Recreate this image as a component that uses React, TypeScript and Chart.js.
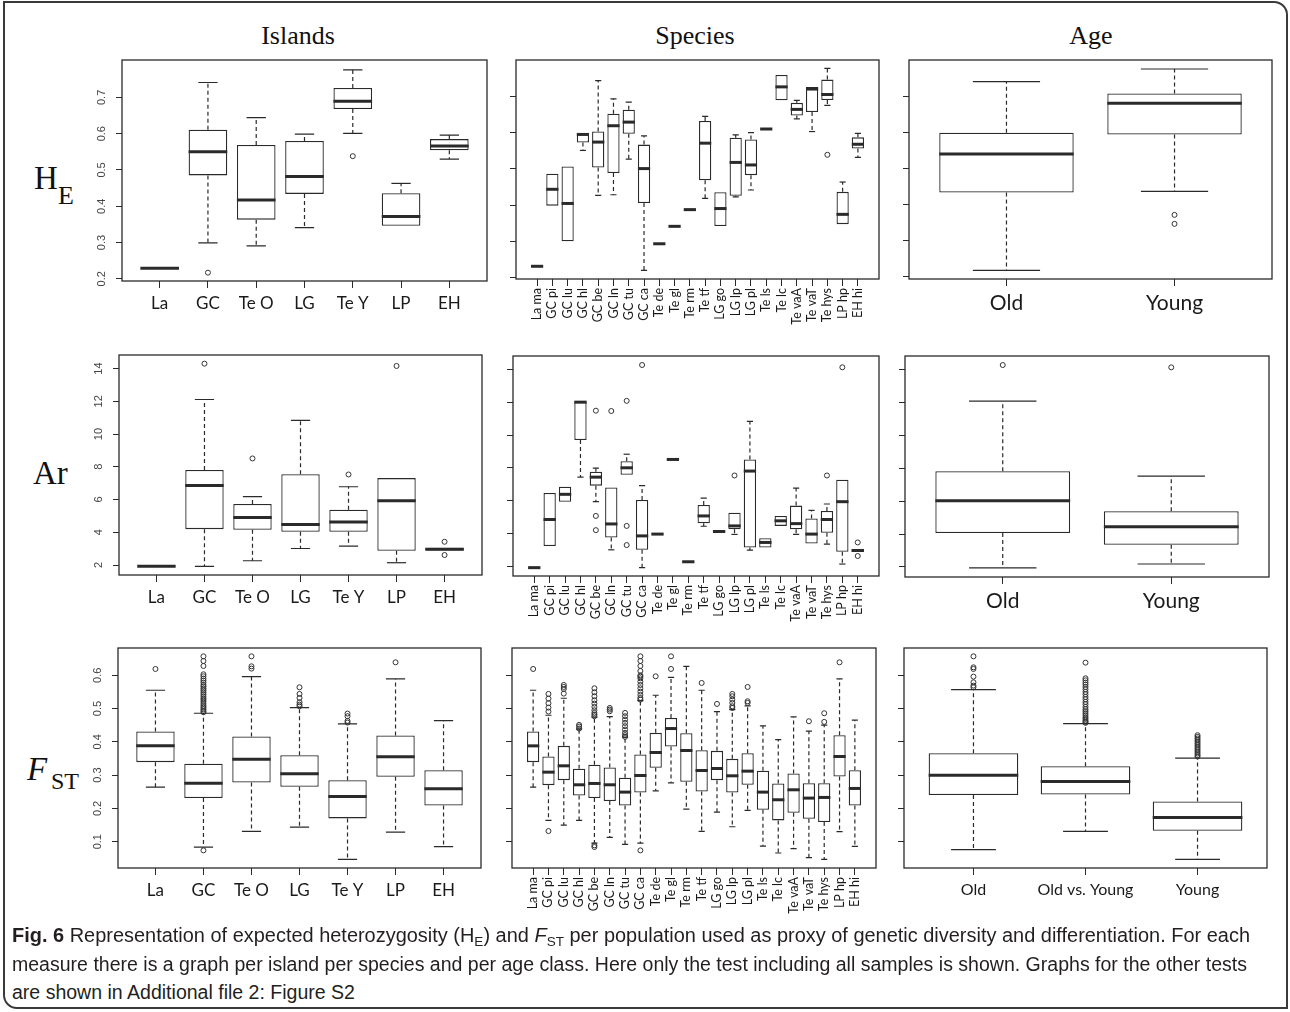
import React, { useEffect, useLayoutEffect, useRef } from "react";
import { Chart, registerables } from "chart.js";

Chart.register(...registerables);

// ---------------- categories ----------------
const islandLabels = ["La", "GC", "Te O", "LG", "Te Y", "LP", "EH"];
const speciesLabels = [
  "La ma", "GC pi", "GC lu", "GC hl", "GC be", "GC ln", "GC tu", "GC ca",
  "Te de", "Te gl", "Te rm", "Te tf", "LG go", "LG lp", "LG pl", "Te ls",
  "Te lc", "Te vaA", "Te vaT", "Te hys", "LP hp", "EH hi",
];
const ageLabels = ["Old", "Young"];
const ageFstLabels = ["Old", "Old vs. Young", "Young"];

// ---------------- y ticks ----------------
const heTicks = [0.2, 0.3, 0.4, 0.5, 0.6, 0.7];
const heTickLabels = ["0.2", "0.3", "0.4", "0.5", "0.6", "0.7"];
const arTicks = [2, 4, 6, 8, 10, 12, 14];
const arTickLabels = ["2", "4", "6", "8", "10", "12", "14"];
const fstTicks = [0.1, 0.2, 0.3, 0.4, 0.5, 0.6];
const fstTickLabels = ["0.1", "0.2", "0.3", "0.4", "0.5", "0.6"];

// ---------------- box statistics: [min, q1, median, q3, max] ----------------
// HE
const heIslandStats = [
  [0.229, 0.229, 0.229, 0.229, 0.229],
  [0.299, 0.485, 0.55, 0.611, 0.741],
  [0.291, 0.363, 0.417, 0.569, 0.644],
  [0.341, 0.434, 0.482, 0.58, 0.599],
  [0.601, 0.668, 0.689, 0.726, 0.776],
  [0.346, 0.346, 0.372, 0.436, 0.463],
  [0.53, 0.554, 0.566, 0.585, 0.596],
];
const heIslandOut = [[], [0.217], [], [], [0.538], [], []];

const heSpeciesStats = [
  [0.232, 0.232, 0.232, 0.232, 0.232],
  [0.399, 0.399, 0.444, 0.487, 0.487],
  [0.301, 0.301, 0.405, 0.507, 0.507],
  [0.551, 0.573, 0.595, 0.598, 0.598],
  [0.427, 0.504, 0.574, 0.603, 0.743],
  [0.429, 0.489, 0.619, 0.652, 0.693],
  [0.527, 0.597, 0.629, 0.663, 0.684],
  [0.221, 0.406, 0.501, 0.567, 0.591],
  [0.294, 0.294, 0.294, 0.294, 0.294],
  [0.342, 0.342, 0.342, 0.342, 0.342],
  [0.388, 0.388, 0.388, 0.388, 0.388],
  [0.419, 0.469, 0.571, 0.632, 0.645],
  [0.343, 0.343, 0.391, 0.436, 0.436],
  [0.423, 0.426, 0.518, 0.586, 0.594],
  [0.442, 0.483, 0.511, 0.581, 0.6],
  [0.61, 0.61, 0.61, 0.61, 0.61],
  [0.689, 0.689, 0.726, 0.759, 0.759],
  [0.638, 0.647, 0.664, 0.682, 0.689],
  [0.603, 0.657, 0.72, 0.726, 0.726],
  [0.675, 0.69, 0.705, 0.746, 0.777],
  [0.348, 0.348, 0.375, 0.437, 0.464],
  [0.532, 0.556, 0.568, 0.587, 0.598],
];
const heSpeciesOut = [
  [], [], [], [], [], [], [], [], [], [], [], [], [], [], [], [], [], [], [],
  [0.539], [], [],
];

const heAgeStats = [
  [0.218, 0.434, 0.541, 0.6, 0.742],
  [0.437, 0.595, 0.682, 0.709, 0.777],
];
const heAgeOut = [[], [0.372, 0.347]];

// Ar
const arIslandStats = [
  [1.92, 1.92, 1.92, 1.92, 1.92],
  [1.92, 4.19, 6.86, 7.8, 12.11],
  [2.26, 4.15, 4.9, 5.73, 6.18],
  [3.01, 4.03, 4.47, 7.55, 10.84],
  [3.16, 4.03, 4.63, 5.38, 6.78],
  [2.14, 2.87, 5.93, 7.31, 7.31],
  [2.88, 2.88, 2.97, 3.05, 3.05],
];
const arIslandOut = [[], [14.3], [8.51], [], [7.53], [14.16], [3.42, 2.61]];

const arSpeciesStats = [
  [1.9, 1.9, 1.9, 1.9, 1.9],
  [3.22, 3.22, 4.84, 6.46, 6.46],
  [5.93, 5.93, 6.38, 6.84, 6.84],
  [7.43, 9.7, 12.01, 12.05, 12.05],
  [5.93, 6.91, 7.43, 7.76, 7.98],
  [2.99, 3.74, 4.57, 6.8, 6.8],
  [7.57, 7.57, 8.0, 8.4, 8.83],
  [1.9, 2.99, 3.84, 6.03, 6.91],
  [3.95, 3.95, 3.95, 3.95, 3.95],
  [8.51, 8.51, 8.51, 8.51, 8.51],
  [2.26, 2.26, 2.26, 2.26, 2.26],
  [4.43, 4.61, 5.06, 5.73, 6.15],
  [4.06, 4.06, 4.11, 4.16, 4.16],
  [3.93, 4.25, 4.45, 5.26, 5.26],
  [2.97, 3.13, 7.8, 8.51, 10.84],
  [3.13, 3.13, 3.44, 3.7, 3.7],
  [4.45, 4.45, 4.76, 5.06, 5.06],
  [3.93, 4.25, 4.59, 5.69, 6.76],
  [3.38, 3.38, 3.95, 4.9, 5.4],
  [3.34, 4.03, 4.84, 5.36, 5.79],
  [2.12, 2.87, 5.93, 7.27, 7.27],
  [2.85, 2.85, 2.95, 3.03, 3.03],
];
const arSpeciesOut = [
  [], [], [], [],
  [11.49, 5.06, 4.19],
  [11.47],
  [12.09, 4.45, 3.28],
  [14.28],
  [], [], [], [], [],
  [7.53],
  [], [], [], [], [],
  [7.53],
  [14.14],
  [3.44, 2.61],
];

const arAgeStats = [
  [1.94, 4.06, 6.02, 7.82, 12.08],
  [2.18, 3.35, 4.44, 5.39, 7.53],
];
const arAgeOut = [[14.28], [14.14]];

// FST
const fstIslandStats = [
  [0.264, 0.339, 0.388, 0.431, 0.555],
  [0.084, 0.231, 0.276, 0.334, 0.486],
  [0.131, 0.278, 0.348, 0.416, 0.596],
  [0.144, 0.265, 0.304, 0.36, 0.503],
  [0.047, 0.17, 0.236, 0.285, 0.454],
  [0.129, 0.295, 0.355, 0.419, 0.589],
  [0.085, 0.209, 0.259, 0.315, 0.464],
];
const fstIslandOut = [
  [0.619],
  [0.657, 0.643, 0.628, 0.603, 0.597, 0.59, 0.584, 0.578, 0.571, 0.566, 0.56,
    0.555, 0.549, 0.543, 0.537, 0.531, 0.526, 0.52, 0.514, 0.508, 0.503, 0.498,
    0.493, 0.489, 0.074],
  [0.657, 0.627, 0.62],
  [0.564, 0.544, 0.532, 0.519, 0.512, 0.507],
  [0.485, 0.477, 0.463, 0.458],
  [0.639],
  [],
];

const fstSpeciesStats = [
  [0.264, 0.339, 0.388, 0.431, 0.555],
  [0.164, 0.27, 0.309, 0.356, 0.48],
  [0.15, 0.285, 0.328, 0.388, 0.531],
  [0.164, 0.239, 0.271, 0.319, 0.438],
  [0.096, 0.231, 0.275, 0.331, 0.474],
  [0.113, 0.222, 0.271, 0.323, 0.476],
  [0.092, 0.209, 0.249, 0.292, 0.414],
  [0.096, 0.248, 0.299, 0.362, 0.524],
  [0.253, 0.322, 0.368, 0.427, 0.54],
  [0.277, 0.386, 0.44, 0.472, 0.594],
  [0.198, 0.28, 0.374, 0.426, 0.627],
  [0.131, 0.251, 0.314, 0.375, 0.555],
  [0.189, 0.285, 0.32, 0.373, 0.491],
  [0.145, 0.248, 0.298, 0.349, 0.497],
  [0.194, 0.271, 0.312, 0.366, 0.508],
  [0.087, 0.196, 0.249, 0.313, 0.448],
  [0.066, 0.164, 0.226, 0.275, 0.407],
  [0.079, 0.187, 0.256, 0.305, 0.475],
  [0.052, 0.169, 0.231, 0.276, 0.432],
  [0.047, 0.159, 0.233, 0.276, 0.45],
  [0.13, 0.296, 0.356, 0.42, 0.589],
  [0.086, 0.209, 0.26, 0.315, 0.465],
];
const fstSpeciesOut = [
  [0.619],
  [0.544, 0.53, 0.516, 0.503, 0.491, 0.132],
  [0.571, 0.565, 0.559, 0.545],
  [0.451, 0.446, 0.44],
  [0.561, 0.549, 0.537, 0.525, 0.515, 0.505, 0.495, 0.487, 0.482, 0.477, 0.089, 0.084],
  [0.502, 0.497, 0.492],
  [0.487, 0.477, 0.467, 0.457, 0.447, 0.437, 0.427, 0.42, 0.415],
  [0.657, 0.643, 0.628, 0.613, 0.6, 0.596, 0.591, 0.581, 0.571, 0.561, 0.551,
    0.541, 0.532, 0.527, 0.074],
  [0.597],
  [0.657, 0.619],
  [],
  [0.577],
  [0.514],
  [0.544, 0.537, 0.527, 0.517, 0.507, 0.502],
  [0.565, 0.522, 0.517],
  [],
  [],
  [],
  [0.462],
  [0.486, 0.46],
  [0.639],
  [],
];

const fstAgeStats = [
  [0.076, 0.24, 0.3, 0.366, 0.557],
  [0.131, 0.242, 0.281, 0.327, 0.455],
  [0.047, 0.133, 0.173, 0.221, 0.351],
];
const fstAgeOut = [
  [0.657, 0.624, 0.619, 0.596, 0.579, 0.569, 0.564],
  [0.638, 0.591, 0.585, 0.578, 0.572, 0.565, 0.558, 0.55, 0.543, 0.535, 0.528,
    0.52, 0.513, 0.505, 0.498, 0.492, 0.486, 0.48, 0.474, 0.469, 0.464, 0.46, 0.457],
  [0.42, 0.415, 0.41, 0.405, 0.4, 0.395, 0.39, 0.385, 0.38, 0.375, 0.37, 0.365,
    0.36, 0.356],
];

// ---------------- panel component ----------------
const LINE = "#2a2a2a";
const SANS = 'Lato, "Open Sans", "Liberation Sans", sans-serif';

type PanelProps = {
  x: number; y: number; w: number; h: number;
  labels: string[];
  stats: number[][];
  outliers: number[][];
  yMin: number; yMax: number;
  yTicks: number[];
  yTickLabels?: string[] | null;
  xFont: number;
  rotate?: boolean;
};

function BoxPanel(p: PanelProps) {
  const ref = useRef<HTMLCanvasElement>(null);
  const ML = 44, MR = 4, MT = 4, MB = 66;
  const cw = p.w + ML + MR;
  const ch = p.h + MT + MB;

  useEffect(() => {
    const canvas = ref.current;
    if (!canvas) return;
    const n = p.labels.length;
    const ext = 0.04 * n;
    const outPts: { x: number; y: number }[] = [];
    p.outliers.forEach((arr, i) => arr.forEach((v) => outPts.push({ x: i + 1, y: v })));

    const plugin = {
      id: "rbox",
      afterDatasetsDraw(chart: any) {
        const ctx = chart.ctx;
        const ys = chart.scales.y;
        const meta = chart.getDatasetMeta(0);
        const Y = (v: number) => ys.getPixelForValue(v);
        ctx.save();
        ctx.strokeStyle = LINE;
        p.stats.forEach((s, i) => {
          const el = meta.data[i];
          if (!el) return;
          const cx = el.x;
          const w = el.width;
          const [mn, q1, md, q3, mx] = s;
          ctx.lineWidth = 1.2;
          ctx.setLineDash([4, 3]);
          ctx.beginPath();
          if (mx > q3) { ctx.moveTo(cx, Y(q3)); ctx.lineTo(cx, Y(mx)); }
          if (mn < q1) { ctx.moveTo(cx, Y(q1)); ctx.lineTo(cx, Y(mn)); }
          ctx.stroke();
          ctx.setLineDash([]);
          ctx.beginPath();
          if (mx > q3) { ctx.moveTo(cx - w / 4, Y(mx)); ctx.lineTo(cx + w / 4, Y(mx)); }
          if (mn < q1) { ctx.moveTo(cx - w / 4, Y(mn)); ctx.lineTo(cx + w / 4, Y(mn)); }
          ctx.stroke();
          ctx.lineWidth = 3;
          ctx.beginPath();
          ctx.moveTo(cx - w / 2, Y(md));
          ctx.lineTo(cx + w / 2, Y(md));
          ctx.stroke();
        });
        ctx.restore();
      },
      afterDraw(chart: any) {
        const ctx = chart.ctx;
        const a = chart.chartArea;
        ctx.save();
        ctx.strokeStyle = LINE;
        ctx.lineWidth = 1.3;
        ctx.strokeRect(a.left, a.top, a.right - a.left, a.bottom - a.top);
        if (p.yTickLabels) {
          const ys = chart.scales.y;
          ctx.fillStyle = "#444";
          ctx.font = '11px "Liberation Sans", Arial, sans-serif';
          ctx.textAlign = "center";
          ctx.textBaseline = "middle";
          p.yTicks.forEach((v, i) => {
            ctx.save();
            ctx.translate(a.left - 20, ys.getPixelForValue(v));
            ctx.rotate(-Math.PI / 2);
            ctx.fillText(p.yTickLabels![i], 0, 0);
            ctx.restore();
          });
        }
        ctx.restore();
      },
    };

    const chart = new Chart(canvas, {
      type: "bar",
      data: {
        datasets: [
          {
            type: "bar",
            data: p.stats.map((s, i) => ({ x: i + 1, y: [s[1], s[3]] })) as any,
            backgroundColor: "#ffffff",
            borderColor: LINE,
            borderWidth: 1.3,
            borderSkipped: false,
            barPercentage: 0.8,
            categoryPercentage: 1,
            order: 1,
          } as any,
          {
            type: "scatter",
            data: outPts as any,
            pointStyle: "circle",
            pointRadius: 2.5,
            pointBackgroundColor: "rgba(0,0,0,0)",
            pointBorderColor: "#333",
            pointBorderWidth: 1,
            order: 0,
          } as any,
        ],
      },
      options: {
        animation: false,
        responsive: false,
        events: [],
        layout: { padding: { top: MT, right: MR, left: 0, bottom: 0 } },
        plugins: { legend: { display: false }, tooltip: { enabled: false } },
        scales: {
          x: {
            type: "linear",
            min: 0.5 - ext,
            max: n + 0.5 + ext,
            offset: false,
            afterBuildTicks: (s: any) => {
              s.ticks = p.labels.map((_, i) => ({ value: i + 1 }));
            },
            afterFit: (s: any) => { s.height = MB; },
            grid: {
              display: true, offset: false, drawOnChartArea: false, drawTicks: true,
              tickLength: 7, color: LINE, lineWidth: 1,
            },
            border: { display: false },
            ticks: {
              autoSkip: false,
              minRotation: p.rotate ? 90 : 0,
              maxRotation: p.rotate ? 90 : 0,
              padding: p.rotate ? 2 : 5,
              color: "#1a1a1a",
              font: { family: SANS, size: p.xFont },
              callback: (_v: any, i: number) => p.labels[i],
            },
          } as any,
          y: {
            type: "linear",
            min: p.yMin,
            max: p.yMax,
            afterBuildTicks: (s: any) => {
              s.ticks = p.yTicks.map((v) => ({ value: v }));
            },
            afterFit: (s: any) => { s.width = ML; },
            grid: {
              display: true, drawOnChartArea: false, drawTicks: true,
              tickLength: 6, color: LINE, lineWidth: 1,
            },
            border: { display: false },
            ticks: { display: false },
          } as any,
        },
      },
      plugins: [plugin as any],
    });
    return () => chart.destroy();
  }, []);

  return (
    <canvas
      ref={ref}
      width={cw}
      height={ch}
      style={{ position: "absolute", left: p.x - ML, top: p.y - MT, width: cw, height: ch }}
    />
  );
}

// ---------------- text helpers ----------------
const SERIF = '"Liberation Serif", "Times New Roman", serif';

function Txt(props: { x: number; base: number; size: number; italic?: boolean; center?: boolean; children: any }) {
  const top = props.base - 0.8375 * props.size;
  return (
    <div
      style={{
        position: "absolute",
        left: props.x,
        top,
        fontFamily: SERIF,
        fontSize: props.size,
        lineHeight: 1,
        fontStyle: props.italic ? "italic" : "normal",
        whiteSpace: "nowrap",
        color: "#111",
        transform: props.center ? "translateX(-50%)" : undefined,
      }}
    >
      {props.children}
    </div>
  );
}

const CAP_FONT = '"Liberation Sans Narrow", "Liberation Sans", sans-serif';

function Caption() {
  const r1 = useRef<HTMLSpanElement>(null);
  const r2 = useRef<HTMLSpanElement>(null);
  const r3 = useRef<HTMLSpanElement>(null);
  useLayoutEffect(() => {
    if (!r1.current || !r2.current || !r3.current) return;
    const w1 = r1.current.getBoundingClientRect().width;
    const w2 = r2.current.getBoundingClientRect().width;
    const s1 = 1238 / w1;
    const s2 = 1235 / w2;
    r1.current.style.transform = `scaleX(${s1})`;
    r2.current.style.transform = `scaleX(${s2})`;
    r3.current.style.transform = `scaleX(${s2})`;
  }, []);
  const line = (top: number): React.CSSProperties => ({
    position: "absolute",
    left: 12,
    top,
    display: "inline-block",
    whiteSpace: "nowrap",
    transformOrigin: "0 0",
    fontFamily: CAP_FONT,
    fontSize: 20,
    lineHeight: "24px",
    color: "#231f20",
  });
  const sub: React.CSSProperties = { fontSize: "0.68em", verticalAlign: "-0.3em", lineHeight: 0 };
  return (
    <>
      <span ref={r1} style={line(923)}>
        <b>Fig. 6</b> Representation of expected heterozygosity (H<span style={sub}>E</span>) and{" "}
        <i>F</i><span style={sub}>ST</span> per population used as proxy of genetic diversity and differentiation. For each
      </span>
      <span ref={r2} style={line(952)}>
        measure there is a graph per island per species and per age class. Here only the test including all samples is shown. Graphs for the other tests
      </span>
      <span ref={r3} style={line(980)}>
        are shown in Additional file 2: Figure S2
      </span>
    </>
  );
}

// ---------------- app ----------------
export default function App() {
  return (
    <div
      style={{
        position: "absolute",
        left: 0,
        top: 0,
        width: 1290,
        height: 1012,
        background: "#fff",
        overflow: "hidden",
      }}
    >
      <div
        style={{
          position: "absolute",
          left: 3,
          top: 1,
          width: 1281,
          height: 1004,
          border: "2px solid #3a3a3a",
          borderRadius: "0 14px 0 14px",
        }}
      />

      {/* column titles */}
      <Txt x={298} base={45} size={26} center>Islands</Txt>
      <Txt x={695} base={45} size={26} center>Species</Txt>
      <Txt x={1091} base={45} size={26} center>Age</Txt>

      {/* row labels */}
      <Txt x={34} base={190} size={33}>H</Txt>
      <Txt x={58} base={205} size={26}>E</Txt>
      <Txt x={33} base={485} size={33}>Ar</Txt>
      <Txt x={27} base={781} size={33} italic>F</Txt>
      <Txt x={51} base={789} size={24}>ST</Txt>

      {/* HE row */}
      <BoxPanel x={122} y={59} w={366} h={222} labels={islandLabels} stats={heIslandStats}
        outliers={heIslandOut} yMin={0.194} yMax={0.803} yTicks={heTicks} yTickLabels={heTickLabels} xFont={17} />
      <BoxPanel x={516} y={59} w={364} h={220} labels={speciesLabels} stats={heSpeciesStats}
        outliers={heSpeciesOut} yMin={0.197} yMax={0.8} yTicks={heTicks} xFont={12.5} rotate />
      <BoxPanel x={909} y={59} w={364} h={220} labels={ageLabels} stats={heAgeStats}
        outliers={heAgeOut} yMin={0.194} yMax={0.802} yTicks={heTicks} xFont={21} />

      {/* Ar row */}
      <BoxPanel x={119} y={354} w={364} h={221} labels={islandLabels} stats={arIslandStats}
        outliers={arIslandOut} yMin={1.39} yMax={14.83} yTicks={arTicks} yTickLabels={arTickLabels} xFont={17} />
      <BoxPanel x={513} y={355} w={367} h={221} labels={speciesLabels} stats={arSpeciesStats}
        outliers={arSpeciesOut} yMin={1.39} yMax={14.83} yTicks={arTicks} xFont={12.5} rotate />
      <BoxPanel x={905} y={355} w={365} h={222} labels={ageLabels} stats={arAgeStats}
        outliers={arAgeOut} yMin={1.39} yMax={14.83} yTicks={arTicks} xFont={21} />

      {/* FST row */}
      <BoxPanel x={118} y={647} w={364} h={221} labels={islandLabels} stats={fstIslandStats}
        outliers={fstIslandOut} yMin={0.021} yMax={0.682} yTicks={fstTicks} yTickLabels={fstTickLabels} xFont={17} />
      <BoxPanel x={512} y={647} w={365} h={221} labels={speciesLabels} stats={fstSpeciesStats}
        outliers={fstSpeciesOut} yMin={0.021} yMax={0.682} yTicks={fstTicks} xFont={12.5} rotate />
      <BoxPanel x={904} y={647} w={364} h={221} labels={ageFstLabels} stats={fstAgeStats}
        outliers={fstAgeOut} yMin={0.021} yMax={0.682} yTicks={fstTicks} xFont={16} />

      <Caption />
    </div>
  );
}
